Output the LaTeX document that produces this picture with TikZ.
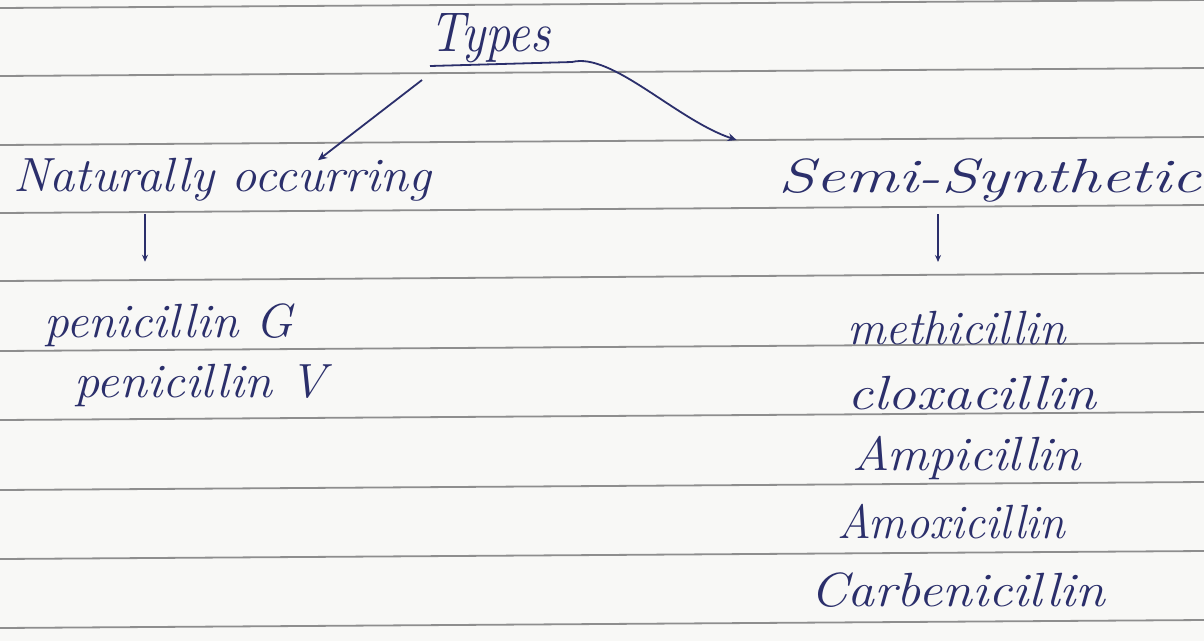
\documentclass[tikz,border=0pt]{standalone}
\usepackage{fontspec}
\usetikzlibrary{arrows.meta,calc}
\definecolor{ink}{HTML}{2B2F6B}
\definecolor{rule}{HTML}{8E8E8E}
\definecolor{paper}{HTML}{F8F8F6}
\newcommand\hw[2]{\scalebox{#1}[1]{#2}}
\tikzset{
  hand/.style={text=ink, font=\fontsize{48}{52}\selectfont\itshape, inner sep=2pt},
  arr/.style={draw=ink, line width=1.8pt, -{Stealth[length=9pt,width=8pt]}},
  tick/.style={draw=ink, line width=1.8pt, -{Stealth[length=7pt,width=6pt]}},
  ruleline/.style={draw=rule, line width=1.8pt}
}
\begin{document}
\begin{tikzpicture}[x=1pt,y=-1pt]
  \fill[paper] (0,0) rectangle (1204,641);
  \useasboundingbox (0,0) rectangle (1204,641);
  % ruled lines of the notebook page, slightly sloping
  \foreach \y in {4,72,141,209,277,347,416,486,555,624}
    \draw[ruleline] (0,\y+4) -- (1204,\y-4);

  % headings
  \node[hand, font=\fontsize{56}{60}\selectfont\itshape] (types) at (490,38) {\hw{0.9}{Types}};
  \draw[draw=ink, line width=1.8pt] ($(types.center)+(-60,28)$) -- ($(types.center)+(82,24)$);
  \node[hand] (nat) at (222,180) {\hw{1.05}{Naturally occurring}};
  \node[hand] (semi) at (990,180) {\hw{1.38}{Semi-Synthetic}};

  % branches from the title
  \draw[arr] ($(types.center)+(-68,42)$) -- ($(nat.north)+(96,4)$);
  \draw[arr] ($(types.center)+(82,24)$) .. controls +(40,-10) and +(-60,-20) .. ($(semi.north west)+(-40,-16)$);

  % natural penicillins
  \node[hand, anchor=west] (pg) at (42,325) {\hw{1.03}{penicillin G}};
  \node[hand, anchor=west] (pv) at (72,385) {\hw{1.05}{penicillin V}};
  \draw[tick] (nat.south -| 145,0) ++(0,10) -- ++(0,48);

  % semi-synthetic penicillins
  \node[hand, anchor=west] (meth) at (845,328) {\hw{1.0}{methicillin}};
  \node[hand, anchor=west] (clox) at (845,393) {\hw{1.2}{cloxacillin}};
  \node[hand, anchor=west] (amp)  at (850,458) {\hw{1.07}{Ampicillin}};
  \node[hand, anchor=west] (amox) at (835,522) {\hw{0.97}{Amoxicillin}};
  \node[hand, anchor=west] (carb) at (808,590) {\hw{1.12}{Carbenicillin}};
  \draw[tick] (semi.south -| 938,0) ++(0,10) -- ++(0,48);
\end{tikzpicture}
\end{document}
